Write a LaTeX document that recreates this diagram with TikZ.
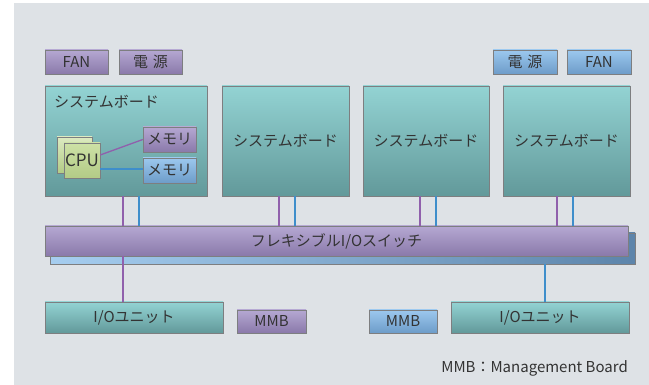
\documentclass[tikz,border=0pt]{standalone}
\usepackage{fontspec}
\setmainfont{Noto Sans CJK JP}
\definecolor{bggray}{HTML}{DEE2E6}
\definecolor{edgegray}{HTML}{7D7E80}
\definecolor{inkgray}{HTML}{333333}
\definecolor{tealtop}{HTML}{93D3D3}
\definecolor{tealbot}{HTML}{62999A}
\definecolor{violettop}{HTML}{B5A8D2}
\definecolor{violetbot}{HTML}{8A79AA}
\definecolor{skytop}{HTML}{9CC8EE}
\definecolor{skybot}{HTML}{6D9CC9}
\definecolor{limetop}{HTML}{CDE1A6}
\definecolor{limebot}{HTML}{B3CB86}
\definecolor{violetline}{HTML}{9060AC}
\definecolor{skyline}{HTML}{3E8ECB}
\begin{document}
\begin{tikzpicture}[x=1pt, y=-1pt,
    every node/.style={text=inkgray, font=\fontsize{15}{17}\selectfont, inner sep=0pt},
    tealbox/.style={draw=edgegray, top color=tealtop, bottom color=tealbot},
    violetbox/.style={draw=edgegray, top color=violettop, bottom color=violetbot},
    skybox/.style={draw=edgegray, top color=skytop, bottom color=skybot},
    chipbox/.style={draw=edgegray, top color=limetop, bottom color=limebot},
    vline/.style={violetline, line width=1.3pt},
    sline/.style={skyline, line width=1.3pt}]
   \useasboundingbox (0,0) rectangle (649,385);
   \fill[bggray] (14,3) rectangle (649,385);
   \node[violetbox, minimum width=63pt, minimum height=24pt] (fanL) at (76.5,62) {FAN};
   \node[violetbox, minimum width=63pt, minimum height=24pt] (psuL) at (150.5,62) {電\hspace{5pt}源};
   \node[skybox, minimum width=64pt, minimum height=24pt] (psuR) at (525,62) {電\hspace{5pt}源};
   \node[skybox, minimum width=64pt, minimum height=24pt] (fanR) at (599,62) {FAN};
   \node[tealbox, minimum width=162pt, minimum height=110pt] (board1) at (126,141) {};
   \node[tealbox, minimum width=127pt, minimum height=110pt] (board2) at (285.5,141) {システムボード};
   \node[tealbox, minimum width=126pt, minimum height=110pt] (board3) at (426,141) {システムボード};
   \node[tealbox, minimum width=127pt, minimum height=110pt] (board4) at (566.5,141) {システムボード};
   \node[anchor=west] (board1label) at (54,102) {システムボード};
   \node[chipbox, top color=limetop!70!white, minimum width=35pt, minimum height=36pt] (cpuback) at (74.5,155) {};
   \node[chipbox, minimum width=36pt, minimum height=35pt, font=\fontsize{17}{19}\selectfont] (cpu) at (82,160.5) {CPU};
   \node[violetbox, minimum width=53pt, minimum height=25pt] (mem1) at (169.5,139.5) {メモリ};
   \node[skybox, minimum width=53pt, minimum height=25pt] (mem2) at (169.5,170.5) {メモリ};
   \draw[vline] ([yshift=5.5pt]cpu.east) -- (mem1.west);
   \draw[sline] ([yshift=-8.5pt]cpu.east) -- ([yshift=-8.5pt]cpu.east -| mem2.west);
   \node[draw=edgegray, left color=skytop!90!white, right color=skybot!85!black, minimum width=585pt, minimum height=31pt] (switchshadow) at (342.5,248.5) {};
   \node[violetbox, minimum width=583pt, minimum height=30pt] (switch) at (336.5,241) {フレキシブルI/Oスイッチ};
   \draw[vline] ([xshift=-3pt]board1.south) -- ([xshift=-3pt]board1.south |- switch.north);
   \draw[sline] ([xshift=13pt]board1.south) -- ([xshift=13pt]board1.south |- switch.north);
   \draw[vline] ([xshift=-6.5pt]board2.south) -- ([xshift=-6.5pt]board2.south |- switch.north);
   \draw[sline] ([xshift=9.5pt]board2.south) -- ([xshift=9.5pt]board2.south |- switch.north);
   \draw[vline] ([xshift=-6pt]board3.south) -- ([xshift=-6pt]board3.south |- switch.north);
   \draw[sline] ([xshift=10pt]board3.south) -- ([xshift=10pt]board3.south |- switch.north);
   \draw[vline] ([xshift=-9.5pt]board4.south) -- ([xshift=-9.5pt]board4.south |- switch.north);
   \draw[sline] ([xshift=6.5pt]board4.south) -- ([xshift=6.5pt]board4.south |- switch.north);
   \node[tealbox, minimum width=178pt, minimum height=31pt] (ioL) at (134,317.5) {I/Oユニット};
   \node[violetbox, minimum width=69pt, minimum height=23pt] (mmbL) at (271.5,321.5) {MMB};
   \node[skybox, minimum width=68pt, minimum height=23pt] (mmbR) at (403,321.5) {MMB};
   \node[tealbox, minimum width=178pt, minimum height=31pt] (ioR) at (540,317.5) {I/Oユニット};
   \draw[vline] ([xshift=-11pt]ioL.north) -- ([xshift=-11pt]ioL.north |- switch.south);
   \draw[sline] ([xshift=5pt]ioR.north) -- ([xshift=5pt]ioR.north |- switchshadow.south);
   \node[anchor=east] (legend) at (628,368) {MMB：Management Board};
\end{tikzpicture}
\end{document}
